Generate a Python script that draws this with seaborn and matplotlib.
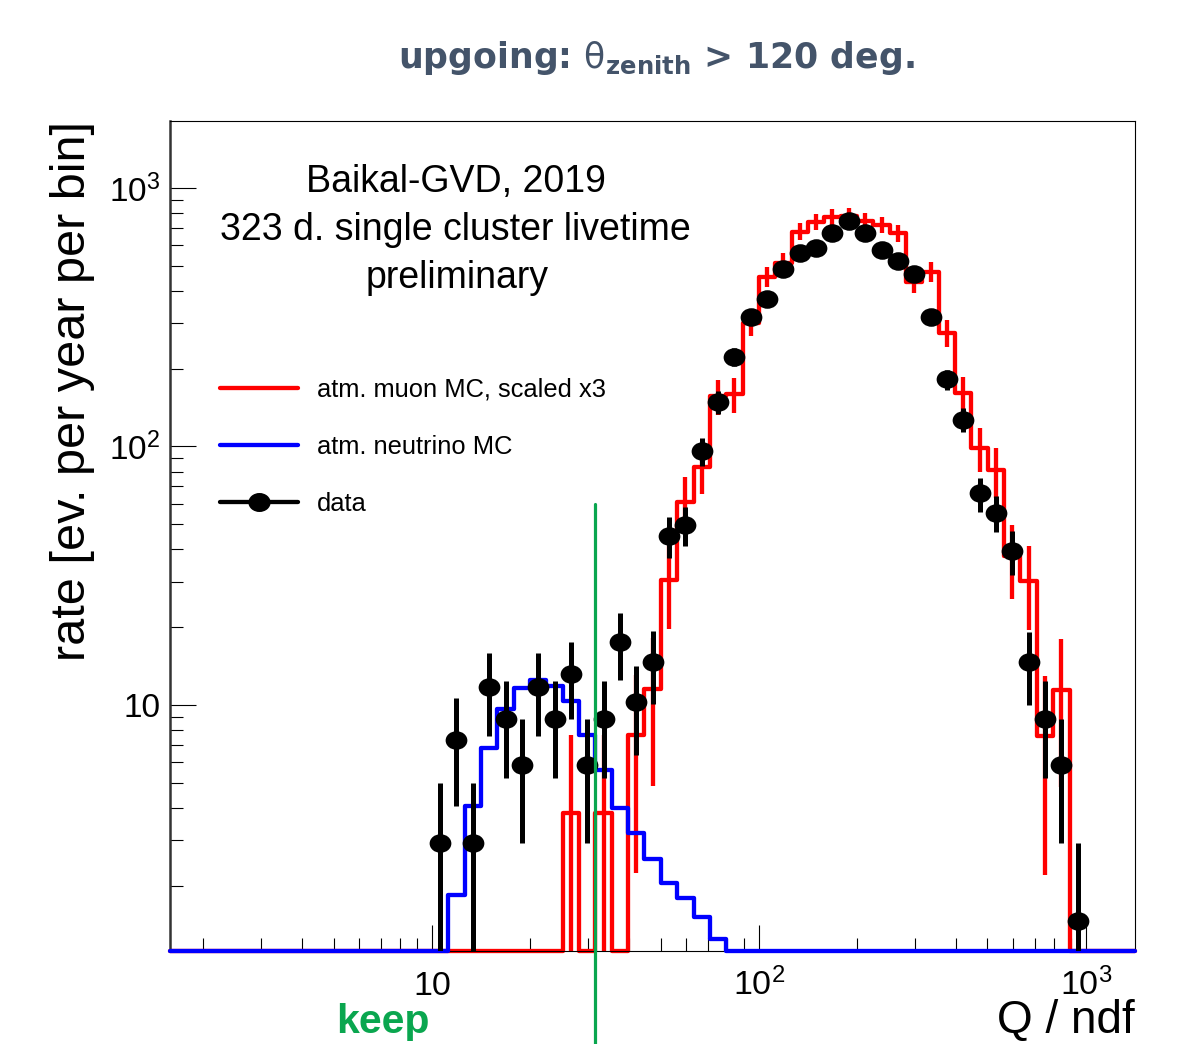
import numpy as np
import matplotlib
matplotlib.use('Agg')
import matplotlib.pyplot as plt
from matplotlib.lines import Line2D
from matplotlib.path import Path
from matplotlib.ticker import LogLocator, NullFormatter
import seaborn as sns

# binning: 20 bins per decade in log10(Q/ndf)
bin_step = 0.05

# data points (bin centres in log10(Q/ndf), rate, error)
data_logq = [1.025, 1.075, 1.125, 1.175, 1.225, 1.275, 1.325, 1.375, 1.425, 1.475,
             1.525, 1.575, 1.625, 1.675, 1.725, 1.775, 1.825, 1.875, 1.925, 1.975,
             2.025, 2.075, 2.125, 2.175, 2.225, 2.275, 2.325, 2.375, 2.425, 2.475,
             2.525, 2.575, 2.625, 2.675, 2.725, 2.775, 2.825, 2.875, 2.925, 2.975]
data_rate = [2.93, 7.33, 2.93, 11.7, 8.8, 5.86, 11.7, 8.8, 13.2, 5.86,
             8.8, 17.6, 10.3, 14.7, 45.1, 49.7, 96.2, 148.6, 222, 317,
             372, 487, 561, 586, 670, 745, 670, 576, 522, 465,
             317, 182, 127, 65.8, 55.5, 39.5, 14.6, 8.8, 5.86, 1.46]
data_err = [2.07, 3.28, 2.07, 4.14, 3.59, 2.93, 4.14, 3.59, 4.40, 2.93,
            3.59, 5.08, 3.88, 4.64, 8.1, 8.5, 11.9, 14.8, 18.0, 21.5,
            23.3, 26.7, 28.7, 29.3, 31.3, 33.0, 31.3, 29.0, 27.7, 26.1,
            21.5, 16.3, 13.6, 9.8, 9.0, 7.6, 4.6, 3.6, 2.93, 1.46]

# atm. muon MC (scaled x3), bins starting at log10 = 1.40
muon_first_edge = 1.40
muon_rate = [3.82, 0, 3.82, 0, 7.65, 11.5, 30.5, 61, 83, 157, 160,
             301, 454, 514, 678, 741, 771, 780, 747, 719, 668,
             434, 474, 275, 161, 98.7, 81, 37.8, 30.3, 7.6, 11.4, 0]
muon_err = [3.82, 0, 3.82, 0, 5.41, 6.63, 10.8, 15.3, 17.8, 24.5, 24.7,
            33.9, 41.6, 44.3, 50.9, 53.2, 54.3, 54.6, 53.4, 52.4, 50.5,
            40.7, 42.6, 32.4, 24.8, 19.4, 17.6, 12.0, 10.8, 5.4, 6.6, 0]

# atm. neutrino MC, bins starting at log10 = 1.05
nu_first_edge = 1.05
nu_rate = [1.84, 4.05, 6.83, 9.66, 11.6, 12.5, 11.8, 10.4, 7.65, 5.6,
           4.0, 3.2, 2.54, 2.05, 1.79, 1.51, 1.24]

cut_value = 31.6
x_ticks = [10, 100, 1000]
x_ticklabels = ['10', r'$\mathregular{10^{2}}$', r'$\mathregular{10^{3}}$']
y_ticks = [10, 100, 1000]
y_ticklabels = ['10', r'$\mathregular{10^{2}}$', r'$\mathregular{10^{3}}$']

xlo, xhi = 1.58, 1413
ylo, yhi = 1.118, 1815

sns.set_style('ticks')
plt.rcParams['font.family'] = ['Liberation Sans', 'DejaVu Sans']
plt.rcParams['text.color'] = 'black'
plt.rcParams['axes.labelcolor'] = 'black'
plt.rcParams['xtick.color'] = 'black'
plt.rcParams['ytick.color'] = 'black'

# full log grid so the empty bins run along the bottom of the frame
grid_log = np.round(np.arange(0.15, 3.2001, bin_step), 2)


def full_hist(first_edge, values):
    start = int(round((first_edge - grid_log[0]) / bin_step))
    h = np.zeros(len(grid_log) - 1)
    h[start:start + len(values)] = values
    edges = 10 ** grid_log
    edges[0], edges[-1] = xlo, xhi
    h = np.where(h > 0, h, ylo)
    return edges, np.append(h, h[-1])


fig = plt.figure(figsize=(11.77, 10.44), dpi=100)
ax = fig.add_axes([0.1444, 0.0891, 0.8199, 0.7950])

red = '#ff0000'
blue = '#0000ff'
hist_lw = 3.1

mx, my = full_hist(muon_first_edge, muon_rate)
sns.lineplot(x=mx, y=my, drawstyle='steps-post', color=red, lw=hist_lw,
             estimator=None, sort=False, ax=ax, clip_on=False, zorder=2)
muon_cent = 10 ** (muon_first_edge + bin_step * (np.arange(len(muon_rate)) + 0.5))
mask = np.array(muon_rate) > 0
ax.errorbar(muon_cent[mask], np.array(muon_rate)[mask], yerr=np.array(muon_err)[mask],
            fmt='none', ecolor=red, elinewidth=hist_lw, capsize=0, zorder=2)

nx, ny = full_hist(nu_first_edge, nu_rate)
sns.lineplot(x=nx, y=ny, drawstyle='steps-post', color=blue, lw=hist_lw,
             estimator=None, sort=False, ax=ax, clip_on=False, zorder=3)

# data, drawn with slightly wide ellipses like the original
circ = Path.unit_circle()
ell = Path(circ.vertices * [1.17, 1.0], circ.codes)
data_x = 10 ** np.array(data_logq)
ax.errorbar(data_x, data_rate, yerr=data_err, fmt='none', ecolor='black',
            elinewidth=3.6, capsize=0, zorder=4)
sns.scatterplot(x=data_x, y=data_rate, marker=ell, s=245, color='black',
                edgecolor='black', linewidth=0, ax=ax, zorder=5, legend=False)

# cut line
ax.plot([cut_value, cut_value], [0.45, 60], color='#0aa64f', lw=2.3,
        clip_on=False, zorder=6)

ax.set_xscale('log')
ax.set_yscale('log')
ax.set_xlim(xlo, xhi)
ax.set_ylim(ylo, yhi)

ax.set_xticks(x_ticks)
ax.set_xticklabels(x_ticklabels)
ax.set_yticks(y_ticks)
ax.set_yticklabels(y_ticklabels)
ax.xaxis.set_minor_locator(LogLocator(base=10, subs=range(2, 10)))
ax.yaxis.set_minor_locator(LogLocator(base=10, subs=range(2, 10)))
ax.xaxis.set_minor_formatter(NullFormatter())
ax.yaxis.set_minor_formatter(NullFormatter())
ax.tick_params(which='both', direction='in', colors='black', width=0.8)
ax.tick_params(which='major', length=19)
ax.tick_params(which='minor', length=9.5)
ax.tick_params(axis='y', which='major', labelsize=24, pad=7)
ax.tick_params(axis='x', which='major', labelsize=24.5, pad=32)
for lab in ax.get_xticklabels():
    lab.set_verticalalignment('baseline')

for s in ['top', 'right', 'bottom']:
    ax.spines[s].set_linewidth(0.8)
    ax.spines[s].set_color('black')
ax.spines['left'].set_linewidth(1.8)
ax.spines['left'].set_color('#333333')

ax.set_ylabel('rate [ev. per year per bin]', fontsize=35, loc='top')
ax.yaxis.set_label_coords(-0.078, 1.0)
ax.set_xlabel('Q / ndf', fontsize=33, loc='right')
ax.xaxis.label.set_verticalalignment('baseline')
ax.xaxis.set_label_coords(1.0, -0.0988)

# header texts
fig.text(0.558, 1 - 68 / 1044, r'upgoing: $\mathrm{\theta}_{\mathbf{zenith}}$ > 120 deg.',
         ha='center', va='baseline', fontsize=25, fontweight='bold',
         family='DejaVu Sans', math_fontfamily='dejavusans', color='#44546a')
fig.text(456 / 1177, 1 - 192 / 1044, 'Baikal-GVD, 2019', ha='center', va='baseline', fontsize=27)
fig.text(455 / 1177, 1 - 240 / 1044, '323 d. single cluster livetime', ha='center',
         va='baseline', fontsize=27)
fig.text(457 / 1177, 1 - 288 / 1044, 'preliminary', ha='center', va='baseline', fontsize=27)
fig.text(383 / 1177, 1 - 1033 / 1044, 'keep', ha='center', va='baseline', fontsize=29.5,
         fontweight='bold', color='#0aa64f')

handles = [Line2D([], [], color=red, lw=hist_lw),
           Line2D([], [], color=blue, lw=hist_lw),
           Line2D([], [], color='black', lw=hist_lw, marker=ell, markersize=16, markeredgewidth=0)]
labels = ['atm. muon MC, scaled x3', 'atm. neutrino MC', 'data']
fig.legend(handles, labels, loc='upper left', bbox_to_anchor=(220 / 1177, 1 - 378 / 1044),
           frameon=False, fontsize=18.4, handlelength=3.05, handletextpad=0.74,
           labelspacing=1.29, borderpad=0, borderaxespad=0)

fig.savefig('out.png', dpi=100, facecolor='white')
